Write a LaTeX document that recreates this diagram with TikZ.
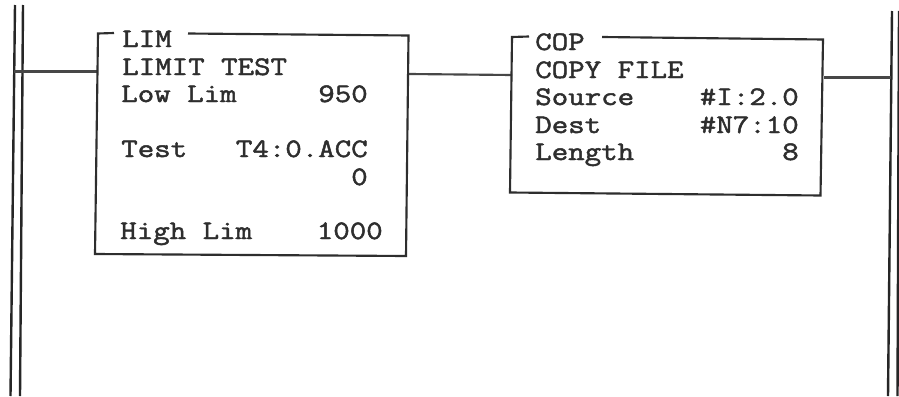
\documentclass[tikz,border=0pt]{standalone}
\usepackage{fontspec}
\setmonofont{Latin Modern Mono}[FakeStretch=1.2,FakeBold=1.8]
\tikzset{
 wire/.style={draw=black!72,line width=1.6pt},
 boxline/.style={draw=black!82,line width=1.6pt,line join=miter},
 rail/.style={draw=black!85,line width=1.8pt},
 lbl/.style={anchor=base west,inner sep=0pt,font=\ttfamily\bfseries\fontsize{20pt}{22pt}\selectfont,text=black!82},
 val/.style={anchor=base east,inner sep=0pt,font=\ttfamily\bfseries\fontsize{20pt}{22pt}\selectfont,text=black!82}
}
\begin{document}
\begin{tikzpicture}[x=0.75pt,y=-0.75pt]
\useasboundingbox[fill=white] (0,0) rectangle (899,396);
\coordinate (r1t) at (15,5); \coordinate (r1b) at (10.5,396);
\coordinate (r2t) at (23,5); \coordinate (r2b) at (20,396);
\coordinate (r3t) at (892,11); \coordinate (r3b) at (888,396);
\coordinate (r4t) at (899,11); \coordinate (r4b) at (897.5,396);
\draw[rail] (r1t)--(r1b); \draw[rail] (r2t)--(r2b);
\draw[rail] (r3t)--(r3b); \draw[rail] (r4t)--(r4b);
\coordinate (a) at (14,71.5); \coordinate (b) at (97,71.5);
\coordinate (c) at (409,74); \coordinate (d) at (512,75);
\coordinate (e) at (824,77.5); \coordinate (f) at (891,77.5);
\draw[wire] (a)--(b); \draw[wire] (c)--(d); \draw[wire] (e)--(f);
% LIM box
\draw[boxline] (114,33) -- (98,33.5) -- (95,254) -- (406,256) -- (408.5,35.5) -- (188,33.5);
\node[lbl] (l1) at (122,47) {LIM};
\node[lbl] (l2) at (122,75) {LIMIT TEST};
\node[lbl] (l3) at (121,102) {Low Lim};
\node[val] (l4) at (368,102) {950};
\node[lbl] (l5) at (121,157) {Test};
\node[val] (l6) at (368,157) {T4:0.ACC};
\node[val] (l7) at (368,185) {0};
\node[lbl] (l8) at (120,239) {High Lim};
\node[val] (l9) at (383,239) {1000};
% COP box
\draw[boxline] (529,36.5) -- (512,37) -- (510,192.5) -- (820.5,195.5) -- (823,39.5) -- (602,37);
\node[lbl] (c1) at (535,50) {COP};
\node[lbl] (c2) at (535,78) {COPY FILE};
\node[lbl] (c3) at (535,105) {Source};
\node[val] (c4) at (799,105) {\#I:2.0};
\node[lbl] (c5) at (535,133) {Dest};
\node[val] (c6) at (799,133) {\#N7:10};
\node[lbl] (c7) at (535,160) {Length};
\node[val] (c8) at (799,160) {8};
\end{tikzpicture}
\end{document}
